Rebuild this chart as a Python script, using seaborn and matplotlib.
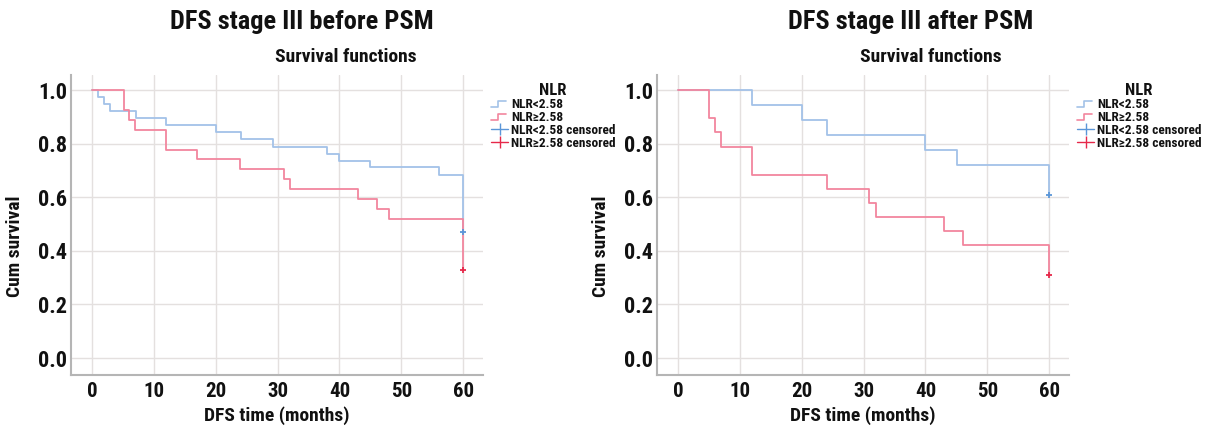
import numpy as np
import pandas as pd
import matplotlib
matplotlib.use("Agg")
import matplotlib.pyplot as plt
import seaborn as sns
from matplotlib import font_manager
from matplotlib.lines import Line2D
from matplotlib.legend_handler import HandlerBase

# --- Data ---
groups = ["NLR<2.58", "NLR\u22652.58"]

before_low_t = [0, 1.0, 2.0, 2.9, 7.1, 12.0, 20.0, 24.0, 29.2, 38.0, 40.0, 45.0, 56.1, 60.0]
before_low_s = [1.0, 0.974, 0.947, 0.921, 0.895, 0.868, 0.842, 0.816, 0.789, 0.763, 0.737, 0.711, 0.684, 0.47]
before_high_t = [0, 5.1, 6.0, 6.9, 11.9, 17.0, 23.9, 31.0, 32.0, 43.0, 46.0, 48.0, 60.0]
before_high_s = [1.0, 0.926, 0.889, 0.852, 0.778, 0.741, 0.704, 0.667, 0.630, 0.593, 0.556, 0.518, 0.33]

after_low_t = [0, 12.0, 20.0, 24.1, 40.0, 45.1, 60.0]
after_low_s = [1.0, 0.944, 0.889, 0.833, 0.778, 0.722, 0.61]
after_high_t = [0, 5.0, 6.0, 7.0, 12.0, 24.1, 30.9, 32.0, 43.0, 46.1, 60.0]
after_high_s = [1.0, 0.895, 0.842, 0.789, 0.684, 0.632, 0.579, 0.526, 0.474, 0.421, 0.31]

# censored observations (time, survival)
before_cens_t = [60.0, 60.0]
before_cens_s = [0.47, 0.33]
after_cens_t = [60.0, 60.0]
after_cens_s = [0.61, 0.31]

line_colors = ["#a3c2e8", "#f2869e"]
cens_colors = ["#5b96d8", "#e6284a"]

sns.set_theme(style="white")

# pick a narrow font if one is around
installed = {f.name for f in font_manager.fontManager.ttflist}
narrow = [n for n in ["Liberation Sans Narrow", "Roboto Condensed", "DejaVu Sans Condensed"] if n in installed]
font_name = narrow[0] if narrow else "Roboto"
is_narrow = bool(narrow)
plt.rcParams["font.family"] = [font_name, "DejaVu Sans"]
plt.rcParams["text.color"] = "#111111"
plt.rcParams["axes.labelcolor"] = "#111111"
k = 1.0 if is_narrow else 0.85  # shrink a wide font a bit


class StepHandler(HandlerBase):
    # small step glyph like the SPSS legend
    def create_artists(self, legend, orig_handle, xdescent, ydescent, width, height, fontsize, trans):
        x = np.array([0, 0.4, 0.4, 0.85]) * width - xdescent
        y = np.array([0.15, 0.15, 0.7, 0.7]) * height - ydescent
        ln = Line2D(x, y, color=orig_handle.get_color(), lw=1.2, transform=trans)
        return [ln]


def make_df(t_low, s_low, t_high, s_high):
    return pd.concat([
        pd.DataFrame({"time": t_low, "surv": s_low, "NLR": groups[0]}),
        pd.DataFrame({"time": t_high, "surv": s_high, "NLR": groups[1]}),
    ])


panels = [
    ("DFS stage III before PSM", make_df(before_low_t, before_low_s, before_high_t, before_high_s),
     before_cens_t, before_cens_s, 71, 0.249, 0.285),
    ("DFS stage III after PSM", make_df(after_low_t, after_low_s, after_high_t, after_high_s),
     after_cens_t, after_cens_s, 657, 0.750, 0.767),
]

fig = plt.figure(figsize=(12.14, 4.29), dpi=100)
W, H = 1214, 429

for title, df, ct, cs, left_px, tx, sx in panels:
    ax = fig.add_axes([left_px / W, (H - 375) / H, 412 / W, 300 / H])
    sns.lineplot(data=df, x="time", y="surv", hue="NLR", palette=line_colors,
                 drawstyle="steps-post", lw=1.3, ax=ax, legend=False, estimator=None)
    for i in range(2):
        ax.plot(ct[i], cs[i], marker="+", color=cens_colors[i], ms=5, mew=1.3)

    ax.set_xlim(-3.4, 63.2)
    ax.set_ylim(-0.063, 1.056)
    ax.set_xticks(range(0, 61, 10))
    ax.set_yticks(np.arange(0, 1.01, 0.2))
    ax.set_yticklabels([f"{v:.1f}" for v in np.arange(0, 1.01, 0.2)])
    ax.grid(True, color="#e4e0df", lw=1.0)
    ax.set_axisbelow(True)
    for side in ["top", "right"]:
        ax.spines[side].set_visible(False)
    for side in ["left", "bottom"]:
        ax.spines[side].set_color("#b5b5b5")
        ax.spines[side].set_linewidth(1.5)
    ax.tick_params(axis="y", length=0, labelsize=16 * k, pad=3, colors="#111111")
    ax.tick_params(axis="x", length=0, labelsize=15 * k, pad=5, colors="#111111")
    for lab in ax.get_xticklabels() + ax.get_yticklabels():
        lab.set_fontweight("bold")
    ax.set_xlabel("DFS time (months)", fontsize=14 * k, fontweight="bold", labelpad=4)
    ax.set_ylabel("Cum survival", fontsize=14 * k, fontweight="bold")
    ax.yaxis.set_label_coords(-0.115, 0.43)

    handles = [Line2D([], [], color=line_colors[0]), Line2D([], [], color=line_colors[1]),
               Line2D([], [], color=cens_colors[0], marker="|", ms=8, lw=1.0),
               Line2D([], [], color=cens_colors[1], marker="|", ms=8, lw=1.0)]
    labels = [groups[0], groups[1], groups[0] + " censored", groups[1] + " censored"]
    leg = ax.legend(handles, labels, title="NLR", loc="upper left", bbox_to_anchor=(1.0, 1.0),
                    frameon=False, fontsize=9.6 if is_narrow else 8, title_fontsize=12 * k,
                    handlelength=1.3, handletextpad=0.2, labelspacing=0.0, borderaxespad=0.2,
                    handler_map={handles[0]: StepHandler(), handles[1]: StepHandler()})
    leg.get_title().set_fontweight("bold")
    for t in leg.get_texts():
        t.set_fontweight("bold")

    fig.text(tx, 1 - 22 / H, title, ha="center", va="center", fontsize=19 * k, fontweight="bold")
    fig.text(sx, 1 - 57 / H, "Survival functions", ha="center", va="center", fontsize=14 * k,
             fontweight="bold")

fig.savefig("out.png", dpi=100)
